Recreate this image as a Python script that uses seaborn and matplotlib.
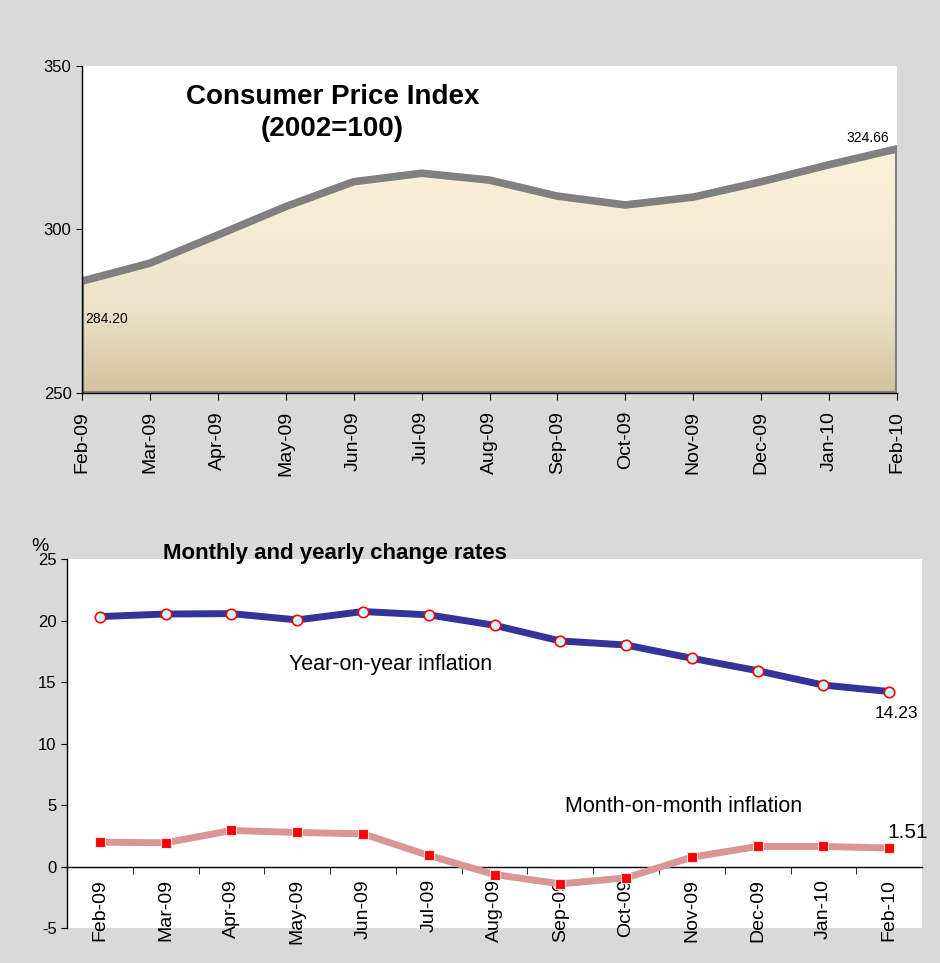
import numpy as np
import pandas as pd
import matplotlib
matplotlib.use("Agg")
import matplotlib.pyplot as plt
from matplotlib.colors import LinearSegmentedColormap
from matplotlib.ticker import FixedLocator
import seaborn as sns

months = ["Feb-09", "Mar-09", "Apr-09", "May-09", "Jun-09", "Jul-09", "Aug-09",
          "Sep-09", "Oct-09", "Nov-09", "Dec-09", "Jan-10", "Feb-10"]
cpi = [284.20, 289.7, 298.3, 307.0, 314.6, 317.2, 315.1, 310.2, 307.5, 309.9, 314.6, 319.8, 324.66]
yoy = [20.32, 20.53, 20.56, 20.05, 20.73, 20.46, 19.61, 18.34, 18.01, 16.93, 15.92, 14.75, 14.23]
mom = [1.98, 1.93, 2.93, 2.77, 2.66, 0.90, -0.65, -1.41, -0.92, 0.76, 1.63, 1.63, 1.51]

sns.set_style("white")
plt.rcParams["font.family"] = ["Liberation Sans", "DejaVu Sans"]
plt.rcParams["text.color"] = "black"
plt.rcParams["xtick.color"] = "black"
plt.rcParams["ytick.color"] = "black"
plt.rcParams["axes.unicode_minus"] = False

bg = "#d9d9d9"
fig = plt.figure(figsize=(9.4, 9.63), dpi=100, facecolor=bg)

# ---- top chart: CPI area ----
pos = np.arange(len(months))
df_cpi = pd.DataFrame({"pos": pos, "month": months, "cpi": cpi})

ax1 = fig.add_axes([0.0872, 0.5919, 0.8671, 0.3396])
poly = ax1.fill_between(df_cpi["pos"], df_cpi["cpi"], 250, facecolor="none",
                        edgecolor="#808080", linewidth=3, zorder=2)
grad = np.linspace(0, 1, 256).reshape(-1, 1)
cmap = LinearSegmentedColormap.from_list("cpi", ["#d3c29d", "#ece2c8", "#f6ecd6", "#fdf0d6"])
im = ax1.imshow(grad, cmap=cmap, aspect="auto", origin="lower",
                extent=[0, 12, 250, 326], zorder=1)
im.set_clip_path(poly.get_paths()[0], transform=ax1.transData)
sns.lineplot(data=df_cpi, x="pos", y="cpi", ax=ax1, color="#808080",
             linewidth=5.5, zorder=3)

ax1.set_xlim(0, 12)
ax1.set_ylim(250, 350)
ax1.set_yticks([250, 300, 350])
ax1.set_xticks(pos)
ax1.set_xticklabels(months, rotation=90, fontsize=14)
ax1.tick_params(axis="y", labelsize=12, left=True, length=4, color="black")
ax1.tick_params(axis="x", bottom=True, length=5, pad=8, color="black")
ax1.set_xlabel("")
ax1.set_ylabel("")
for s in ["top", "right"]:
    ax1.spines[s].set_visible(False)
for s in ["left", "bottom"]:
    ax1.spines[s].set_color("black")
    ax1.spines[s].set_linewidth(1)
    ax1.spines[s].set_zorder(4)

ax1.text(0.307, 0.945, "Consumer Price Index\n(2002=100)", transform=ax1.transAxes,
         ha="center", va="top", fontsize=20, fontweight="bold", linespacing=1.3)
ax1.annotate(f"{cpi[0]:.2f}", xy=(0, cpi[0]), xytext=(3, -38), textcoords="offset pixels",
             ha="left", va="center", fontsize=10)
ax1.annotate(f"{cpi[-1]:.2f}", xy=(12, cpi[-1]), xytext=(-29, 11), textcoords="offset pixels",
             ha="center", va="center", fontsize=10)

# ---- bottom chart: change rates ----
df_rates = pd.DataFrame({"pos": pos, "month": months, "yoy": yoy, "mom": mom})

ax2 = fig.add_axes([0.0713, 0.0363, 0.9096, 0.3832])
sns.lineplot(data=df_rates, x="pos", y="yoy", ax=ax2, color="#333399", linewidth=5,
             marker="o", markersize=7.5, markerfacecolor="#ccffff",
             markeredgecolor="red", markeredgewidth=1.2, zorder=3)
sns.lineplot(data=df_rates, x="pos", y="mom", ax=ax2, color="#d99694", linewidth=5,
             marker="s", markersize=6.5, markerfacecolor="red",
             markeredgecolor="#ffe0e0", markeredgewidth=0.8, zorder=3)

ax2.spines["bottom"].set_position(("data", 0))
ax2.set_xlim(-0.5, 12.5)
ax2.set_ylim(-5, 25)
ax2.set_yticks(range(-5, 30, 5))
ax2.set_xticks(pos)
ax2.set_xticklabels(months, rotation=90, fontsize=14, va="top")
ax2.xaxis.set_minor_locator(FixedLocator(np.arange(0.5, 12.5, 1)))
ax2.tick_params(axis="x", which="major", bottom=True, length=0, pad=9)
ax2.tick_params(axis="x", which="minor", bottom=True, length=5, color="black")
ax2.tick_params(axis="y", labelsize=12, left=True, length=4, color="black")
ax2.set_xlabel("")
ax2.set_ylabel("")
for s in ["top", "right"]:
    ax2.spines[s].set_visible(False)
for s in ["left", "bottom"]:
    ax2.spines[s].set_color("black")
    ax2.spines[s].set_linewidth(1)

ax2.text(-0.032, 1.035, "%", transform=ax2.transAxes, ha="center", va="center", fontsize=14)
ax2.text(0.313, 1.014, "Monthly and yearly change rates", transform=ax2.transAxes,
         ha="center", va="center", fontsize=16, fontweight="bold")
ax2.text(4.42, 16.4, "Year-on-year inflation", ha="center", va="center", fontsize=15.5)
ax2.text(8.87, 4.9, "Month-on-month inflation", ha="center", va="center", fontsize=15.5)
ax2.annotate(f"{yoy[-1]:.2f}", xy=(12, yoy[-1]), xytext=(7, -22), textcoords="offset pixels",
             ha="center", va="center", fontsize=12.5)
ax2.annotate(f"{mom[-1]:.2f}", xy=(12, mom[-1]), xytext=(19, 15), textcoords="offset pixels",
             ha="center", va="center", fontsize=15)

fig.savefig("out.png", dpi=100, facecolor=bg)
